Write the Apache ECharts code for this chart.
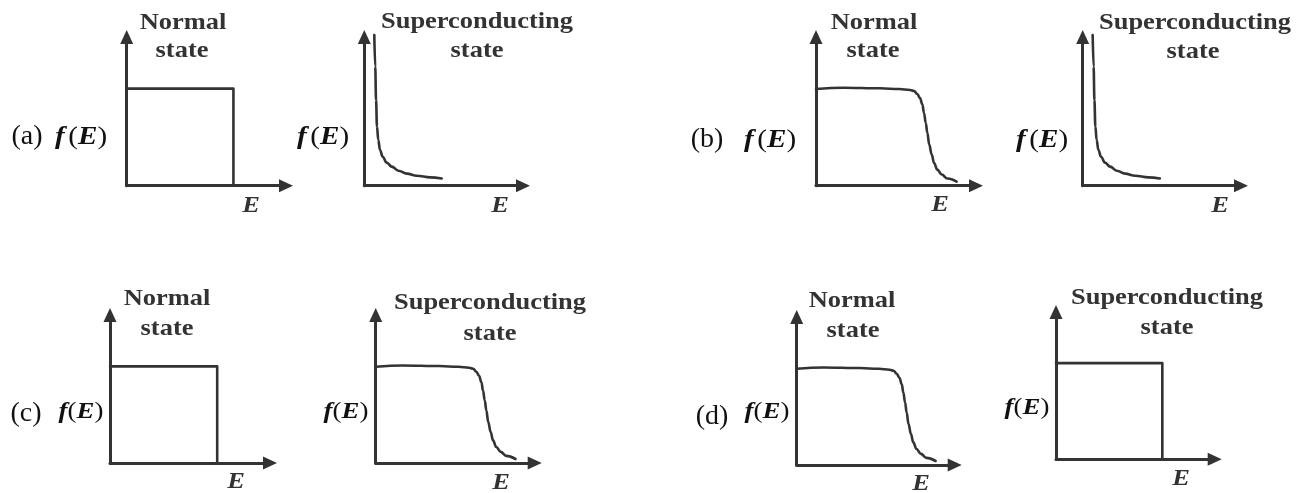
<!DOCTYPE html>
<html>
<head>
<meta charset="utf-8">
<title>Fermi distribution: normal vs superconducting state</title>
<script src="https://cdn.jsdelivr.net/npm/echarts@6/dist/echarts.min.js"></script>
<style>
  html, body { margin: 0; padding: 0; background: #ffffff; }
  #chart { width: 1309px; height: 493px; }
</style>
</head>
<body>
<div id="chart"></div>
<script>
// Curve shapes, in percent of each small plot's axis length (E along x, f(E) along y)
const stepE  = [0, 67, 67];
const stepF  = [65.3, 65.3, 0];

const fermiE = [0, 17, 40, 52, 58.8, 61.3, 63.3, 65.0, 66.5, 67.5, 68.6, 69.6, 70.8, 72.3, 73.8, 75.8, 78.6, 82.1, 87.9];
const fermiF = [65.0, 65.9, 65.5, 65.0, 64.4, 63.7, 61.7, 59.0, 54.5, 48.9, 42.2, 35.5, 27.6, 20.9, 15.3, 10.8, 7.5, 4.8, 2.7];

const gapE   = [6.3, 6.9, 7.4, 8.0, 8.8, 9.9, 11.6, 14.1, 17.3, 21.5, 26.8, 33.1, 41.5, 48.8];
const gapF   = [101.3, 80.0, 57.6, 39.7, 30.8, 24.0, 19.5, 15.5, 12.8, 10.1, 8.1, 6.7, 5.6, 4.9];

// Panel captions
const rowLabels   = ['(a)', '(b)', '(c)', '(d)'];
const stateTitles = ['Normal', 'Superconducting'];
const curveKinds  = ['step', 'gap', 'fermi', 'gap', 'step', 'fermi', 'fermi', 'step'];

// Placement of each small plot: y-axis x, x-axis y, arrow tip of y axis, arrow tip of x axis
const plotBoxes = [
  { ox: 126.7, oy: 185.7, tipY: 30,  tipX: 293 },
  { ox: 364.3, oy: 185.7, tipY: 30,  tipX: 530 },
  { ox: 816.0, oy: 185.7, tipY: 30,  tipX: 983 },
  { ox: 1082.7, oy: 185.7, tipY: 30, tipX: 1248 },
  { ox: 110.0, oy: 463.0, tipY: 308, tipX: 277 },
  { ox: 375.7, oy: 463.0, tipY: 308, tipX: 541.7 },
  { ox: 796.7, oy: 465.0, tipY: 310, tipX: 961.7 },
  { ox: 1056.0, oy: 459.3, tipY: 305, tipX: 1221.7 }
];

// Text anchors (centres)
const titlePos = [
  [[183, 23], [182, 51]],
  [[477, 22], [477, 51]],
  [[874, 23], [873, 51]],
  [[1195, 23], [1193, 52]],
  [[167, 299], [167, 329]],
  [[490, 303], [490, 334]],
  [[852, 301], [853, 331]],
  [[1167, 298], [1167, 328]]
];
const fPos = [[81, 137], [323, 137], [770, 140], [1042, 140], [81, 412], [346, 412], [767, 412], [1027, 408]];
const ePos = [[251, 206], [500, 206], [940, 205], [1220, 206], [236, 482], [501, 483], [921, 484], [1181, 479]];
const rowLabelPos = [[27, 137], [707, 140], [26, 414], [712, 417]];

const INK = '#333333';
const SERIF = '"Liberation Serif", "Times New Roman", serif';
const ARROW_H = 14;

function pairs(xs, ys) { return xs.map((x, i) => [x, ys[i]]); }
const curves = {
  step:  { data: pairs(stepE, stepF),   smooth: false },
  fermi: { data: pairs(fermiE, fermiF), smooth: 0.4 },
  gap:   { data: pairs(gapE, gapF),     smooth: 0.4 }
};

const grids = [], xAxes = [], yAxes = [], series = [], graphics = [];

plotBoxes.forEach((b, i) => {
  const top = b.tipY + ARROW_H / 2;
  const right = b.tipX - ARROW_H / 2;
  grids.push({ left: b.ox, top: top, width: right - b.ox, height: b.oy - top, containLabel: false });
  const axisCommon = {
    gridIndex: i, type: 'value', min: 0, max: 100,
    axisLine: { show: true, onZero: false, symbol: ['none', 'triangle'], symbolSize: [13, ARROW_H],
                lineStyle: { color: INK, width: 3 } },
    axisTick: { show: false }, axisLabel: { show: false }, splitLine: { show: false }
  };
  xAxes.push(Object.assign({}, axisCommon));
  yAxes.push(Object.assign({}, axisCommon));
  const c = curves[curveKinds[i]];
  series.push({
    type: 'line', xAxisIndex: i, yAxisIndex: i, data: c.data,
    smooth: c.smooth, smoothMonotone: 'x', showSymbol: false, symbol: 'none', clip: false,
    lineStyle: { color: INK, width: 2.6, join: 'round', cap: 'round' }, silent: true
  });

  // Panel heading
  const name = stateTitles[i % 2];
  graphics.push({ type: 'text', x: titlePos[i][0][0], y: titlePos[i][0][1], scaleX: 1.15,
    style: { text: name, font: 'bold 23px ' + SERIF, fill: INK, align: 'center', verticalAlign: 'middle' } });
  graphics.push({ type: 'text', x: titlePos[i][1][0], y: titlePos[i][1][1], scaleX: 1.15,
    style: { text: 'state', font: 'bold 23px ' + SERIF, fill: INK, align: 'center', verticalAlign: 'middle' } });

  // f(E) label and E label
  const firstRow = i < 4;
  const fs = firstRow ? 26 : 24;
  graphics.push({ type: 'text', x: fPos[i][0], y: fPos[i][1], scaleX: 1.12,
    style: {
      text: firstRow ? '{f|f} {p|(}{e|E}{p|)}' : '{f|f}{p|(}{e|E}{p|)}',
      align: 'center', verticalAlign: 'middle', fill: '#111',
      rich: {
        f: { fontFamily: SERIF, fontSize: fs, fontStyle: 'italic', fontWeight: 'bold', fill: '#111' },
        e: { fontFamily: SERIF, fontSize: fs, fontStyle: 'italic', fontWeight: 'bold', fill: '#111' },
        p: { fontFamily: SERIF, fontSize: fs, fill: '#111' }
      }
    } });
  graphics.push({ type: 'text', x: ePos[i][0], y: ePos[i][1], scaleX: 1.15,
    style: { text: 'E', font: 'italic bold 23px ' + SERIF, fill: INK, align: 'center', verticalAlign: 'middle' } });
});

rowLabels.forEach((t, k) => {
  graphics.push({ type: 'text', x: rowLabelPos[k][0], y: rowLabelPos[k][1],
    style: { text: t, font: '28px ' + SERIF, fill: '#111', align: 'center', verticalAlign: 'middle' } });
});

const chart = echarts.init(document.getElementById('chart'), null, { renderer: 'canvas' });
chart.setOption({
  animation: false,
  backgroundColor: '#ffffff',
  grid: grids,
  xAxis: xAxes,
  yAxis: yAxes,
  series: series,
  graphic: graphics
});
</script>
</body>
</html>
